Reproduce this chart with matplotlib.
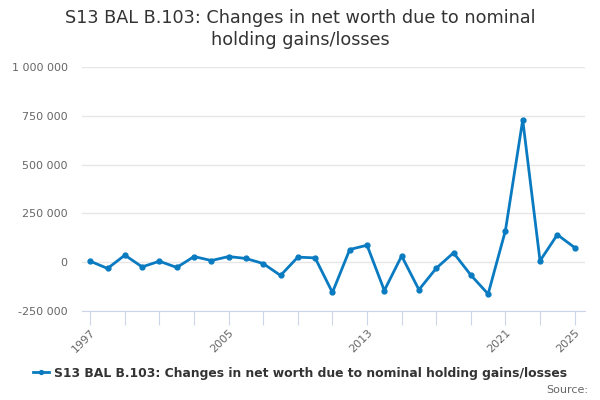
import matplotlib
matplotlib.use("Agg")
import matplotlib.pyplot as plt
from matplotlib.ticker import FuncFormatter

years = list(range(1997, 2026))
values = [5000, -32000, 36000, -24000, 5000, -27000, 29000, 8500, 29000, 19000,
          -7000, -68000, 26000, 22000, -155000, 65000, 87000, -145000, 32000,
          -141000, -31000, 48000, -66000, -163000, 162000, 729000, 7000, 141000, 75000]
series_name = "S13 BAL B.103: Changes in net worth due to nominal holding gains/losses"
title = "S13 BAL B.103: Changes in net worth due to nominal\nholding gains/losses"
yticks = [-250000, 0, 250000, 500000, 750000, 1000000]
xlabel_years = [1997, 2005, 2013, 2021, 2025]

color = "#0a7bc1"
fig = plt.figure(figsize=(6, 4), dpi=100)
ax = fig.add_axes([0.136, 0.2225, 0.839, 0.61])
line, = ax.plot(years, values, color=color, linewidth=2, marker="o", markersize=3.5,
                label=series_name)
ax.set_ylim(-250000, 1000000)
ax.set_xlim(1996.5, 2025.6)
ax.set_yticks(yticks)
ax.yaxis.set_major_formatter(FuncFormatter(lambda v, p: f"{int(v):,}".replace(",", " ")))
ax.grid(axis="y", color="#e6e6e6", linewidth=1)
ax.set_axisbelow(True)
for s in ["top", "right", "left"]:
    ax.spines[s].set_visible(False)
ax.spines["bottom"].set_color("#ccd6eb")
ax.spines["bottom"].set_zorder(0)
ax.tick_params(axis="y", length=0, labelsize=8, labelcolor="#666666", pad=10)
ax.set_xticks(list(range(1997, 2026, 2)))
ax.set_xticklabels([str(y) if y in xlabel_years else "" for y in range(1997, 2026, 2)],
                   rotation=45, ha="right", rotation_mode="anchor")
ax.tick_params(axis="x", length=10, color="#ccd6eb", labelsize=8, labelcolor="#666666", pad=2)

fig.text(0.5, 0.978, title, ha="center", va="top", fontsize=12.7, color="#333333",
         linespacing=1.28)
fig.legend(handles=[line], loc="center", bbox_to_anchor=(0.5, 0.067), frameon=False,
           prop={"size": 8.9, "weight": "bold"}, labelcolor="#333333",
           handlelength=1.3, handletextpad=0.4, markerscale=0.8)
fig.text(0.98, 0.025, "Source:", ha="right", va="center", fontsize=8, color="#666666")
fig.savefig("out.png", dpi=100)
